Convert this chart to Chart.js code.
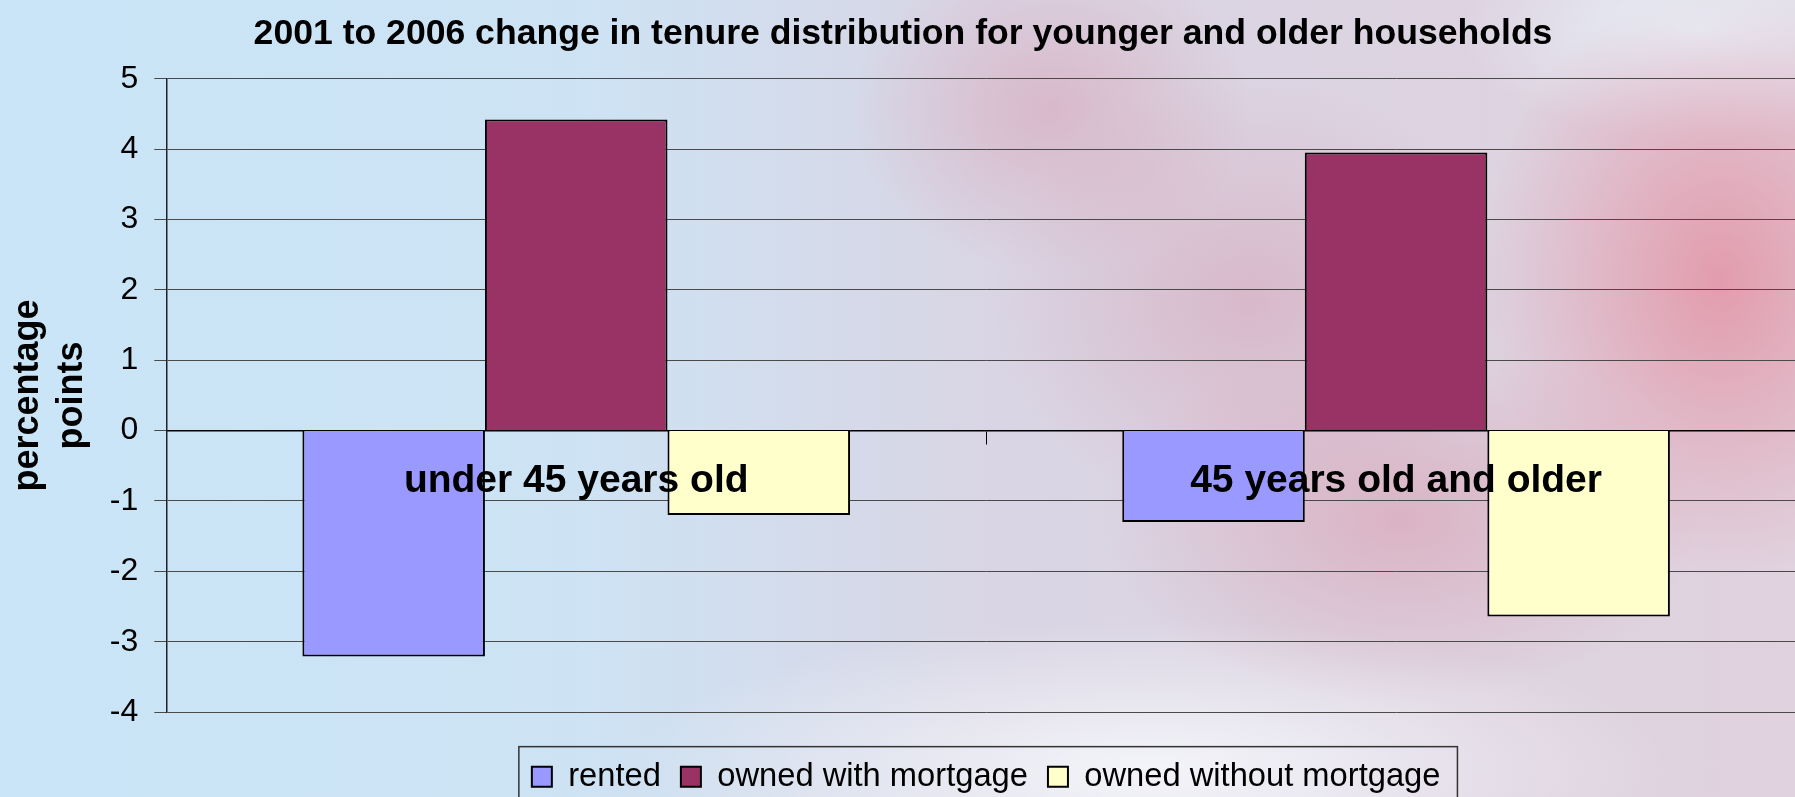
<!DOCTYPE html>
<html>
<head>
<meta charset="utf-8">
<script src="https://cdn.jsdelivr.net/npm/chart.js@4"></script>
<style>
    html, body {
        margin: 0;
        padding: 0;
        width: 1795px;
        height: 797px;
        overflow: hidden;
    }
    body {
        background:
            radial-gradient(ellipse 240px 300px at 1720px 280px, rgba(228, 120, 140, 0.6), rgba(228, 120, 140, 0) 100%),
            radial-gradient(ellipse 200px 160px at 1050px 110px, rgba(215, 150, 170, 0.45), rgba(215, 150, 170, 0) 100%),
            radial-gradient(ellipse 260px 220px at 1250px 300px, rgba(212, 150, 172, 0.45), rgba(212, 150, 172, 0) 100%),
            radial-gradient(ellipse 300px 180px at 1400px 520px, rgba(215, 140, 160, 0.45), rgba(215, 140, 160, 0) 100%),
            radial-gradient(ellipse 520px 150px at 1150px 770px, rgba(246, 248, 252, 0.9), rgba(246, 248, 252, 0) 100%),
            radial-gradient(ellipse 240px 110px at 1700px 30px, rgba(232, 244, 252, 0.9), rgba(232, 244, 252, 0) 100%),
            linear-gradient(90deg, #c9e5f7 0%, #cde3f4 32%, #d9d5e4 55%, #e0d2de 100%);
    }
    #wrap {
        width: 1812px;
        height: 803px;
    }
</style>
</head>
<body>
<div id="wrap"><canvas id="tenureChart" width="1812" height="803"></canvas></div>
<script>
const categories = ["under 45 years old", "45 years old and older"];
const rented = [-3.21, -1.3];
const ownedWithMortgage = [4.42, 3.95];
const ownedWithoutMortgage = [-1.2, -2.64];
const yTicks = [-4, -3, -2, -1, 0, 1, 2, 3, 4, 5];

Chart.defaults.font.family = "'Liberation Sans', Arial, sans-serif";
Chart.defaults.color = "#000";

// box round the legend, as in the original
const legendBorder = {
    id: "legendBorder",
    afterDraw(chart) {
        const boxes = chart.legend.legendHitBoxes;
        if (!boxes || !boxes.length) return;
        const left = Math.min(...boxes.map(b => b.left)) - 13;
        const right = Math.max(...boxes.map(b => b.left + b.width)) + 17;
        const mid = boxes[0].top + boxes[0].height / 2;
        const ctx = chart.ctx;
        ctx.save();
        ctx.strokeStyle = "#333";
        ctx.lineWidth = 1.5;
        ctx.strokeRect(left, mid - 30, right - left, 70);
        ctx.restore();
    }
};

const tenureConfig = {
    type: "bar",
    data: {
        labels: categories,
        datasets: [{
            label: "rented",
            backgroundColor: "#9999ff",
            borderColor: "#000",
            borderWidth: 2,
            data: rented,
        }, {
            label: "owned with mortgage",
            backgroundColor: "#993366",
            borderColor: "#000",
            borderWidth: 2,
            data: ownedWithMortgage,
        }, {
            label: "owned without mortgage",
            backgroundColor: "#ffffcc",
            borderColor: "#000",
            borderWidth: 2,
            data: ownedWithoutMortgage,
        }],
    },
    options: {
        responsive: false,
        animation: false,
        layout: { padding: { left: 0, right: 6, top: 0, bottom: 0 } },
        datasets: {
            bar: { categoryPercentage: 0.668, barPercentage: 1.0 },
        },
        plugins: {
            title: {
                display: true,
                text: "2001 to 2006 change in tenure distribution for younger and older households",
                font: { size: 35.6, weight: "bold" },
                padding: { top: 13, bottom: 23 },
            },
            legend: {
                position: "bottom",
                fullSize: false,
                title: { display: true, text: "", font: { size: 1 }, padding: { top: 0, bottom: 27 } },
                labels: {
                    boxWidth: 20,
                    boxHeight: 20,
                    padding: 20,
                    font: { size: 32.7 },
                },
            },
            tooltip: { enabled: false },
        },
        scales: {
            x: {
                type: "category",
                position: { y: 0 },
                offset: true,
                grid: {
                    drawOnChartArea: false,
                    drawTicks: true,
                    tickLength: 13,
                    color: "#000",
                },
                border: { display: true, color: "#000", width: 1.5 },
                ticks: {
                    z: 1,
                    padding: 14,
                    font: { size: 39, weight: "bold" },
                },
            },
            y: {
                min: -4,
                max: 5,
                afterBuildTicks: scale => {
                    scale.ticks = yTicks.map(v => ({ value: v }));
                },
                grid: {
                    color: "#4a4a4a",
                    lineWidth: 1,
                    tickLength: 12,
                },
                border: { color: "#222", width: 1.5 },
                ticks: {
                    padding: 16,
                    font: { size: 32 },
                },
                title: {
                    display: true,
                    text: ["percentage", "points"],
                    font: { size: 36, weight: "bold", lineHeight: 1.22 },
                    padding: { top: 6, bottom: 0 },
                },
            },
        },
    },
    plugins: [legendBorder],
};

const tenureChart = new Chart(
    document.getElementById("tenureChart"),
    tenureConfig
);
</script>
</body>
</html>
